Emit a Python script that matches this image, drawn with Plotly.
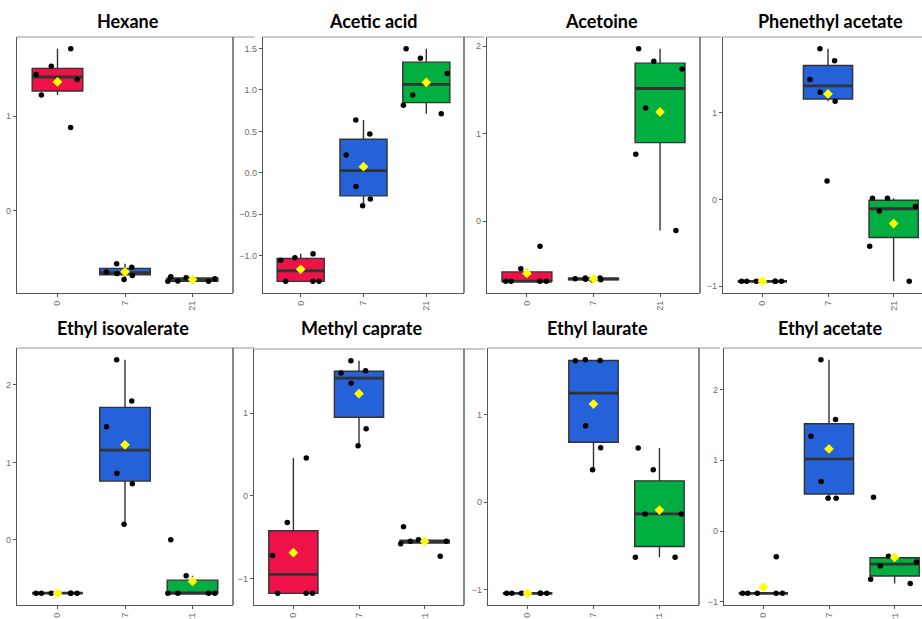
import numpy as np
import plotly.graph_objects as go

# Sampling days (x categories) and compounds (one panel each)
DAYS = ["0", "7", "21"]
COMPOUNDS = ["Hexane", "Acetic acid", "Acetoine", "Phenethyl acetate",
             "Ethyl isovalerate", "Methyl caprate", "Ethyl laurate", "Ethyl acetate"]

# Standardised abundances, six replicates per day: [day 0, day 7, day 21]
hexane = [
    [1.713, 1.526, 1.44, 1.386, 1.224, 0.88],
    [-0.56, -0.597, -0.663, -0.649, -0.684, -0.726],
    [-0.747, -0.698, -0.719, -0.709, -0.744, -0.747],
]
acetic_acid = [
    [-1.026, -0.978, -1.054, -1.31, -1.31, -1.31],
    [0.637, 0.469, 0.216, -0.164, -0.316, -0.397],
    [1.499, 1.382, 1.198, 0.938, 0.817, 0.713],
]
acetoine = [
    [-0.685, -0.685, -0.685, -0.685, -0.541, -0.284],
    [-0.647, -0.67, -0.668, -0.647, -0.655, -0.66],
    [1.97, 1.826, 1.739, 1.292, 0.766, -0.106],
]
phenethyl_acetate = [
    [-0.943, -0.943, -0.944, -0.943, -0.942, -0.943],
    [1.739, 1.598, 1.383, 1.237, 1.133, 0.214],
    [0.015, 0.015, -0.08, -0.134, -0.54, -0.943],
]
ethyl_isovalerate = [
    [-0.688, -0.688, -0.688, -0.688, -0.688, -0.688],
    [2.325, 1.793, 1.458, 0.858, 0.725, 0.202],
    [0.0, -0.463, -0.69, -0.69, -0.69, -0.69],
]
methyl_caprate = [
    [0.457, -0.321, -0.721, -1.178, -1.178, -1.178],
    [1.635, 1.486, 1.514, 1.362, 0.813, 0.605],
    [-0.529, -0.549, -0.549, -0.577, -0.729, -0.373],
]
ethyl_laurate = [
    [-1.04, -1.04, -1.04, -1.04, -1.04, -1.04],
    [1.626, 1.615, 1.618, 0.872, 0.621, 0.369],
    [0.617, 0.369, -0.134, -0.134, -0.629, -0.629],
]
ethyl_acetate = [
    [-0.879, -0.879, -0.879, -0.879, -0.879, -0.361],
    [2.422, 1.576, 1.34, 0.701, 0.465, 0.465],
    [0.48, -0.357, -0.437, -0.494, -0.681, -0.742],
]

SERIES = [hexane, acetic_acid, acetoine, phenethyl_acetate,
          ethyl_isovalerate, methyl_caprate, ethyl_laurate, ethyl_acetate]

# y tick step per panel
Y_STEP = [1, 0.5, 1, 1, 1, 1, 1, 1]

FILLS = ["#EE1248", "#2561D8", "#00AF3F"]
EDGE = "#333333"
TEXT = "#6b6b6b"

W, H = 922, 619
# Panel frames in pixels: left, right, top, bottom
FRAMES = [
    (17, 233, 37, 293), (263, 464, 37, 293), (487, 700, 37, 293), (723, 933, 37, 293),
    (17, 233, 348, 605), (254, 464, 349, 605), (488, 699, 348, 605), (724, 934, 348, 605),
]
# Title centres in pixels
TITLE_XY = [(128, 21), (373, 21), (601, 21), (830, 21),
            (123, 328), (361, 328), (597, 328), (830, 328)]

BOX_W = 0.75


def box_stats(vals):
    v = np.sort(np.asarray(vals, dtype=float))
    q1, med, q3 = np.percentile(v, [25, 50, 75])
    iqr = q3 - q1
    lo = v[v >= q1 - 1.5 * iqr].min()
    hi = v[v <= q3 + 1.5 * iqr].max()
    return q1, med, q3, lo, hi


fig = go.Figure()
layout = {}
shapes = []
annotations = []

for k, (name, groups) in enumerate(zip(COMPOUNDS, SERIES)):
    sfx = "" if k == 0 else str(k + 1)
    xa, ya = f"x{sfx}", f"y{sfx}"
    left, right, top, bottom = FRAMES[k]
    vis_right = min(right, W)

    for i, vals in enumerate(groups):
        q1, med, q3, lo, hi = box_stats(vals)
        # box with whiskers
        fig.add_trace(go.Box(
            x=[i], q1=[q1], median=[med], q3=[q3], lowerfence=[lo], upperfence=[hi],
            width=BOX_W, fillcolor=FILLS[i], line=dict(color=EDGE, width=1.4),
            whiskerwidth=0, boxpoints=False, showlegend=False, hoverinfo="skip",
            xaxis=xa, yaxis=ya))
        # heavier median bar
        fig.add_trace(go.Box(
            x=[i], q1=[med], median=[med], q3=[med], lowerfence=[med], upperfence=[med],
            width=BOX_W, fillcolor="rgba(0,0,0,0)", line=dict(color=EDGE, width=2.8),
            whiskerwidth=0, boxpoints=False, showlegend=False, hoverinfo="skip",
            xaxis=xa, yaxis=ya))

    # jittered replicates
    xs = [i for i, vals in enumerate(groups) for _ in vals]
    ys = [v for vals in groups for v in vals]
    fig.add_trace(go.Box(
        x=xs, y=ys, boxpoints="all", jitter=1.0, pointpos=0, width=BOX_W,
        fillcolor="rgba(0,0,0,0)", line=dict(color="rgba(0,0,0,0)", width=0),
        marker=dict(color="black", size=5.5), showlegend=False, hoverinfo="skip",
        xaxis=xa, yaxis=ya))

    # group means
    fig.add_trace(go.Scatter(
        x=list(range(len(groups))), y=[float(np.mean(g)) for g in groups],
        mode="markers", marker=dict(symbol="diamond", size=7.5, color="#FFFF00"),
        showlegend=False, hoverinfo="skip", xaxis=xa, yaxis=ya))

    vmin, vmax = min(ys), max(ys)
    pad = 0.05 * (vmax - vmin)
    xmax = -0.6 + 3.2 * (vis_right - left) / (right - left)

    axis_common = dict(
        showgrid=False, zeroline=False, showline=True, linecolor="#555555", linewidth=1.4,
        ticks="outside", ticklen=3, tickwidth=1, tickcolor="#555555",
        tickfont=dict(family="Liberation Sans", size=9, color=TEXT), automargin=False)

    layout[f"xaxis{sfx}"] = dict(
        domain=[left / W, vis_right / W], range=[-0.6, xmax], anchor=ya,
        tickmode="array", tickvals=[0, 1, 2], ticktext=DAYS, tickangle=-90,
        **axis_common)
    layout[f"yaxis{sfx}"] = dict(
        domain=[1 - bottom / H, 1 - top / H], range=[vmin - pad, vmax + pad], anchor=xa,
        dtick=Y_STEP[k], tick0=0, tickformat=".1f" if Y_STEP[k] < 1 else "d",
        **axis_common)

    # light top edge and darker right edge of the panel frame
    shapes.append(dict(type="line", xref=f"{xa} domain", yref=f"{ya} domain",
                       x0=0, x1=1.1, y0=1, y1=1, line=dict(color="#b8b8b8", width=1.4)))
    if right <= W:
        shapes.append(dict(type="line", xref=f"{xa} domain", yref=f"{ya} domain",
                           x0=1, x1=1, y0=0, y1=1, line=dict(color="#555555", width=1.4)))

    tx, ty = TITLE_XY[k]
    annotations.append(dict(
        text=f"<b>{name}</b>", xref="paper", yref="paper", x=tx / W, y=1 - ty / H,
        xanchor="center", yanchor="middle", showarrow=False,
        font=dict(family="Lato", size=18, color="black")))

fig.update_layout(
    width=W, height=H, margin=dict(l=0, r=0, t=0, b=0),
    paper_bgcolor="white", plot_bgcolor="white", template="none",
    boxmode="overlay", showlegend=False, shapes=shapes, annotations=annotations,
    **layout)

fig.write_html("out.html")
